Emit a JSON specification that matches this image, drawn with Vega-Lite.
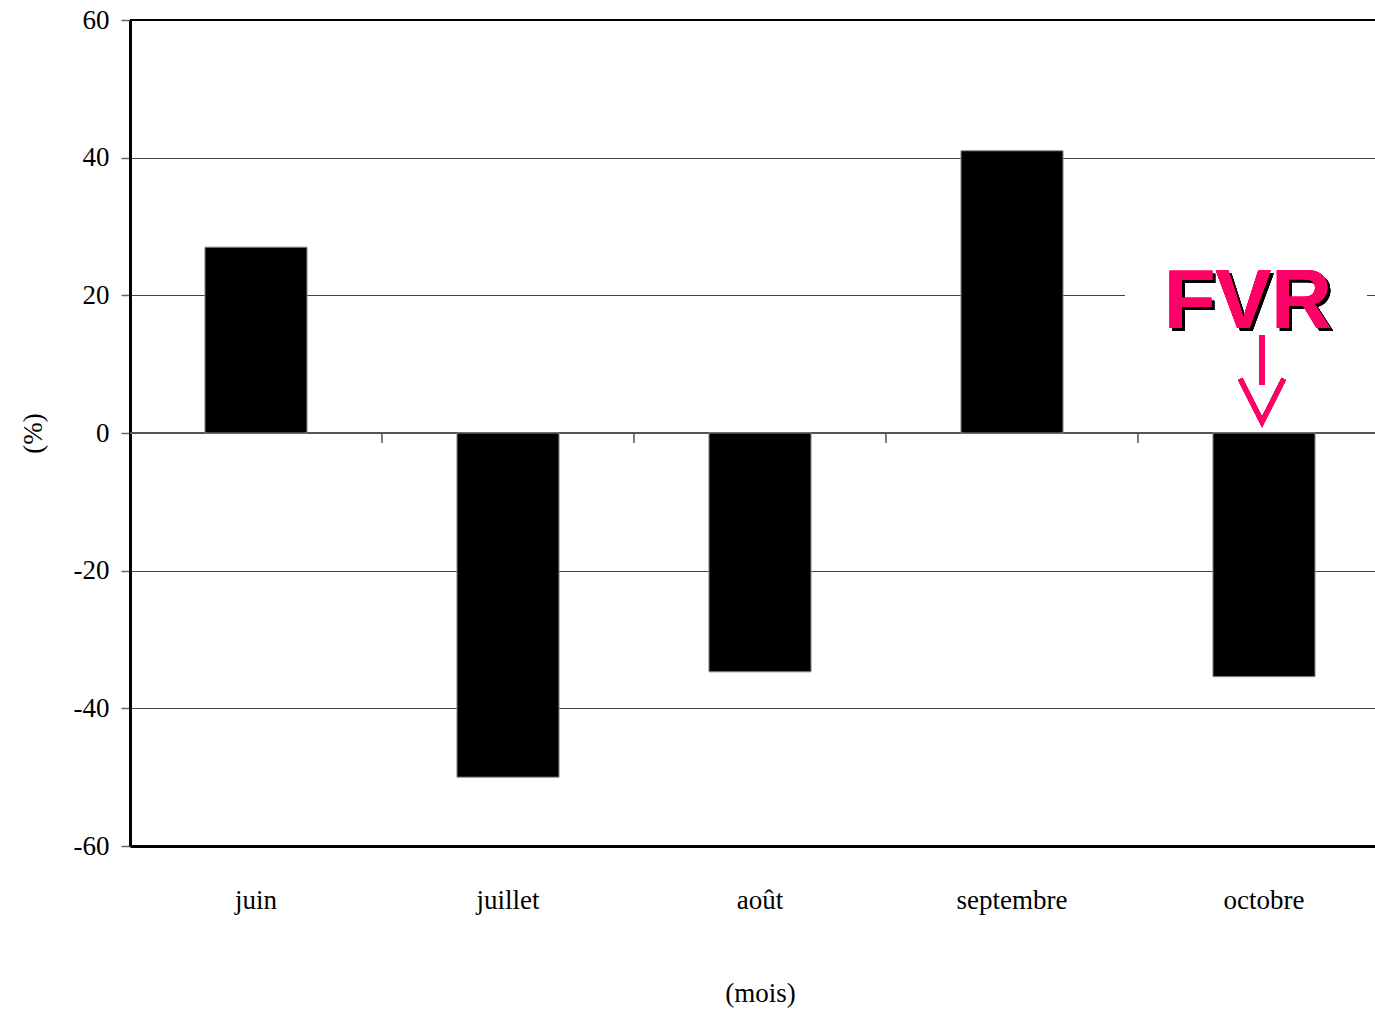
{
  "$schema": "https://vega.github.io/schema/vega-lite/v6.json",
  "autosize": "none",
  "padding": {"left": 130, "top": 20, "right": 0, "bottom": 165},
  "width": 1245,
  "height": 826,
  "background": "white",
  "config": {
    "view": {"stroke": null},
    "font": "Liberation Serif"
  },
  "data": {
    "values": [
      {"mois": "juin", "variation": 27.0},
      {"mois": "juillet", "variation": -50.0},
      {"mois": "août", "variation": -34.7},
      {"mois": "septembre", "variation": 41.0},
      {"mois": "octobre", "variation": -35.4}
    ]
  },
  "layer": [
    {
      "mark": {"type": "rule", "color": "#000", "strokeWidth": 2},
      "encoding": {"y": {"datum": 60, "type": "quantitative"}}
    },
    {
      "mark": {"type": "rule", "color": "#555", "strokeWidth": 1.5},
      "encoding": {"y": {"datum": 0, "type": "quantitative"}}
    },
    {
      "mark": {"type": "bar", "color": "#000", "stroke": "#888", "strokeWidth": 1},
      "encoding": {
        "x": {
          "field": "mois",
          "type": "nominal",
          "sort": null,
          "scale": {"range": [0, 1260], "paddingInner": 0.595, "paddingOuter": 0.2975},
          "axis": {
            "title": "(mois)",
            "titleFont": "Liberation Serif",
            "titleFontSize": 27,
            "titleFontWeight": "normal",
            "titlePadding": 67,
            "titleX": 630,
            "labelFont": "Liberation Serif",
            "labelFontSize": 27,
            "labelColor": "#000",
            "labelPadding": 41,
            "labelAngle": 0,
            "ticks": false,
            "domainColor": "#000",
            "domainWidth": 3,
            "grid": false
          }
        },
        "y": {
          "field": "variation",
          "type": "quantitative",
          "scale": {"domain": [-60, 60], "nice": false, "zero": false},
          "axis": {
            "title": "(%)",
            "titleFont": "Liberation Serif",
            "titleFontSize": 27,
            "titleFontWeight": "normal",
            "titlePadding": 26,
            "values": [-60, -40, -20, 0, 20, 40, 60],
            "labelExpr": "'' + datum.value",
            "labelFont": "Liberation Serif",
            "labelFontSize": 27,
            "labelColor": "#000",
            "labelPadding": 12,
            "tickSize": 9,
            "tickColor": "#666",
            "tickWidth": 1.5,
            "domainColor": "#000",
            "domainWidth": 3,
            "grid": true,
            "gridColor": "#444",
            "gridWidth": 1
          }
        }
      }
    },
    {
      "transform": [{"filter": "datum.mois !== 'juin'"}],
      "mark": {"type": "rule", "color": "#555", "strokeWidth": 1.5},
      "encoding": {
        "x": {"field": "mois", "type": "nominal", "sort": null, "bandPosition": -0.735},
        "y": {"datum": 0, "type": "quantitative"},
        "y2": {"datum": -1.45}
      }
    },
    {
      "mark": {"type": "tick", "orient": "horizontal", "color": "white", "size": 242, "thickness": 4, "xOffset": -18, "opacity": 1},
      "encoding": {
        "x": {"datum": "octobre", "type": "nominal"},
        "y": {"datum": 20, "type": "quantitative"}
      }
    },
    {
      "mark": {"type": "text", "text": "FVR", "font": "Liberation Sans", "fontWeight": "bold", "fontSize": 84, "color": "#000", "baseline": "alphabetic", "align": "center", "dx": -13, "dy": 3},
      "encoding": {
        "x": {"datum": "octobre", "type": "nominal"},
        "y": {"datum": 15.25, "type": "quantitative"}
      }
    },
    {
      "mark": {"type": "text", "text": "FVR", "font": "Liberation Sans", "fontWeight": "bold", "fontSize": 84, "color": "#FF0066", "baseline": "alphabetic", "align": "center", "dx": -16},
      "encoding": {
        "x": {"datum": "octobre", "type": "nominal"},
        "y": {"datum": 15.25, "type": "quantitative"}
      }
    },
    {
      "mark": {
        "type": "point",
        "shape": "M0,-2 L0,-0.85 M-0.5,-0.99 L0,0 L0.5,-0.99",
        "size": 7569,
        "filled": false,
        "stroke": "#FF0066",
        "strokeWidth": 5,
        "strokeJoin": "miter",
        "strokeCap": "butt",
        "opacity": 1,
        "xOffset": -2
      },
      "encoding": {
        "x": {"datum": "octobre", "type": "nominal"},
        "y": {"datum": 1.6, "type": "quantitative"}
      }
    }
  ]
}
